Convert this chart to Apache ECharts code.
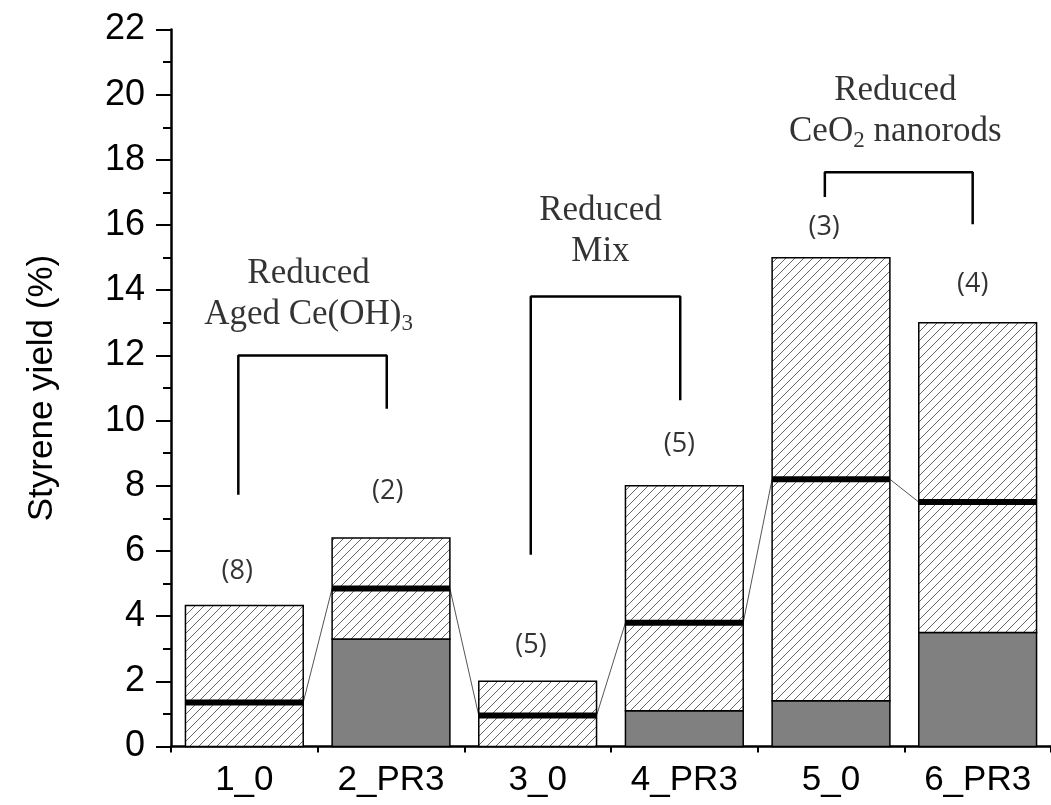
<!DOCTYPE html>
<html><head><meta charset="utf-8">
<script src="https://cdn.jsdelivr.net/npm/echarts@6/dist/echarts.min.js"></script>
<style>html,body{margin:0;padding:0;background:#fff}#c{width:1051px;height:805px}</style>
</head><body><div id="c"></div>
<script>
// ---- data ----
const categories = ['1_0', '2_PR3', '3_0', '4_PR3', '5_0', '6_PR3'];
const maxYield = [4.33, 6.4, 2.0, 8.0, 15.0, 13.0];
const medianYield = [1.35, 4.85, 0.95, 3.8, 8.2, 7.5];
const minYield = [0, 3.3, 0, 1.1, 1.4, 3.5];
const countLabels = ['(8)', '(2)', '(5)', '(5)', '(3)', '(4)'];
const countLabelPos = [[0.452, 5.37], [1.478, 7.82], [2.454, 3.1], [3.466, 9.26], [4.453, 15.92], [5.466, 14.17]];
const groupNames = [
  'Reduced\nAged Ce(OH){s|3}',
  'Reduced\nMix',
  'Reduced\nCeO{s|2} nanorods'
];
const groupLabelPos = [[0.938, 13.87], [2.928, 15.81], [4.939, 19.5]];
const brackets = [
  [[0.459, 7.76], [0.459, 12.0], [1.471, 12.0], [1.471, 10.4]],
  [[2.453, 5.92], [2.453, 13.81], [3.472, 13.81], [3.472, 10.66]],
  [[4.458, 16.9], [4.458, 17.62], [5.466, 17.62], [5.466, 16.06]]
];
const yAxisName = 'Styrene yield (%)';

// ---- hatch pattern ----
function makeHatch() {
  const s = 9;
  const c = document.createElement('canvas');
  c.width = s; c.height = s;
  const g = c.getContext('2d');
  g.fillStyle = '#fff'; g.fillRect(0, 0, s, s);
  g.strokeStyle = '#555'; g.lineWidth = 0.9;
  g.beginPath();
  g.moveTo(-1, s + 1); g.lineTo(s + 1, -1);
  g.moveTo(-1, 1); g.lineTo(1, -1);
  g.moveTo(s - 1, s + 1); g.lineTo(s + 1, s - 1);
  g.stroke();
  return c;
}
const hatchPattern = { image: makeHatch(), repeat: 'repeat' };

const chart = echarts.init(document.getElementById('c'), null, { renderer: 'canvas' });
const axisFont = 'Liberation Sans, Arial, sans-serif';
const serifFont = 'Liberation Serif, Times New Roman, serif';

const option = {
  animation: false,
  backgroundColor: '#fff',
  grid: { left: 171, top: 29.5, width: 889, height: 717 },
  xAxis: [
    {
      type: 'category', data: categories, boundaryGap: true,
      axisLine: { lineStyle: { color: '#000', width: 2.5 } },
      axisTick: { alignWithLabel: true, length: 13, lineStyle: { color: '#000', width: 2 } },
      axisLabel: { color: '#000', fontFamily: axisFont, fontSize: 35, margin: 16 },
      splitLine: { show: false }
    },
    {
      type: 'value', min: 0, max: 6, interval: 1, position: 'bottom',
      axisLine: { show: false },
      axisTick: { show: true, length: 6, lineStyle: { color: '#000', width: 2 } },
      axisLabel: { show: false },
      splitLine: { show: false }
    }
  ],
  yAxis: {
    type: 'value', min: 0, max: 22, interval: 2,
    name: yAxisName, nameLocation: 'middle', nameGap: 111,
    nameTextStyle: { color: '#000', fontFamily: axisFont, fontSize: 35 },
    axisLine: { show: true, lineStyle: { color: '#000', width: 2.5 } },
    axisTick: { show: true, length: 15, lineStyle: { color: '#000', width: 2 } },
    minorTick: { show: true, splitNumber: 2, length: 8, lineStyle: { color: '#000', width: 2 } },
    axisLabel: { color: '#000', fontFamily: axisFont, fontSize: 36, margin: 26 },
    splitLine: { show: false }
  },
  series: [
    {
      type: 'custom', xAxisIndex: 0, yAxisIndex: 0, z: 2,
      data: categories.map((c, i) => [i, maxYield[i], medianYield[i], minYield[i]]),
      renderItem: function (params, api) {
        const i = api.value(0);
        const bw = api.size([1, 0])[0] * 0.803;
        const top = api.coord([i, api.value(1)]);
        const med = api.coord([i, api.value(2)]);
        const low = api.coord([i, api.value(3)]);
        const base = api.coord([i, 0]);
        const x0 = top[0] - bw / 2, x1 = top[0] + bw / 2;
        const children = [];
        if (i < categories.length - 1) {
          const nb = api.coord([i + 1, medianYield[i + 1]]);
          children.push({ type: 'line', shape: { x1: x1, y1: med[1], x2: nb[0] - bw / 2, y2: nb[1] }, style: { stroke: '#555', lineWidth: 1 } });
        }
        if (api.value(3) > 0) {
          children.push({ type: 'rect', shape: { x: x0, y: low[1], width: bw, height: base[1] - low[1] }, style: { fill: '#808080', stroke: '#000', lineWidth: 1.5 } });
        }
        children.push({ type: 'rect', shape: { x: x0, y: top[1], width: bw, height: low[1] - top[1] }, style: { fill: hatchPattern, stroke: '#000', lineWidth: 1.5 } });
        children.push({ type: 'line', shape: { x1: x0, y1: med[1], x2: x1, y2: med[1] }, style: { stroke: '#000', lineWidth: 6 } });
        return { type: 'group', children: children };
      }
    },
    ...brackets.map(b => ({
      type: 'line', xAxisIndex: 1, yAxisIndex: 0, data: b, symbol: 'none', z: 3,
      lineStyle: { color: '#000', width: 2.5, cap: 'square' }
    })),
    {
      type: 'scatter', xAxisIndex: 1, yAxisIndex: 0, symbolSize: 1, z: 4,
      itemStyle: { color: 'rgba(0,0,0,0)' },
      data: countLabelPos.map((p, i) => ({ value: p, name: countLabels[i] })),
      label: { show: true, position: 'inside', formatter: p => countLabels[p.dataIndex], color: '#000', fontFamily: 'Open Sans, Noto Sans, sans-serif', fontSize: 27 }
    },
    {
      type: 'scatter', xAxisIndex: 1, yAxisIndex: 0, symbolSize: 1, z: 4,
      itemStyle: { color: 'rgba(0,0,0,0)' },
      data: groupLabelPos.map((p, i) => ({ value: p })),
      label: {
        show: true, position: 'inside', formatter: p => groupNames[p.dataIndex],
        color: '#000', fontFamily: serifFont, fontSize: 35, lineHeight: 41, align: 'center',
        rich: { s: { fontFamily: serifFont, fontSize: 23, lineHeight: 23, verticalAlign: 'bottom', color: '#000' } }
      }
    }
  ]
};
chart.setOption(option);
</script>
</body></html>
